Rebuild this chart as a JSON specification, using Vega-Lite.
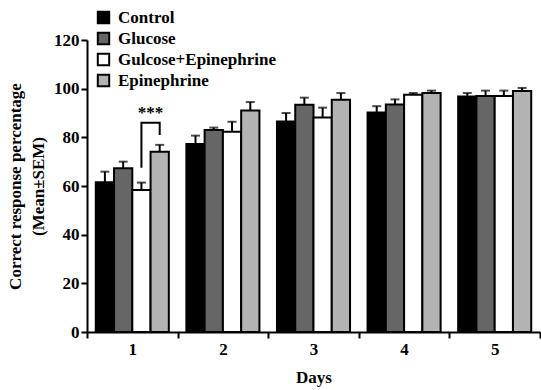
{
  "$schema": "https://vega.github.io/schema/vega-lite/v6.json",
  "autosize": "none",
  "width": 453,
  "height": 292,
  "padding": {"left": 87, "top": 40, "right": 1, "bottom": 58},
  "background": "white",
  "config": {
    "view": {"stroke": null},
    "font": "Liberation Serif",
    "axis": {"labelFont": "Liberation Serif", "titleFont": "Liberation Serif", "labelFontWeight": "bold", "titleFontWeight": "bold", "labelColor": "black", "titleColor": "black", "domainColor": "black", "tickColor": "black", "domainWidth": 2, "tickWidth": 2, "grid": false, "labelFontSize": 17, "titleFontSize": 17},
    "legend": {"labelFont": "Liberation Serif", "labelFontWeight": "bold", "labelFontSize": 17, "labelColor": "black"}
  },
  "datasets": {
    "bars": [
      {"day": "1", "group": "Control", "mean": 61.5, "upper": 65.9},
      {"day": "1", "group": "Glucose", "mean": 67.3, "upper": 70.0},
      {"day": "1", "group": "Gulcose+Epinephrine", "mean": 58.4, "upper": 61.4},
      {"day": "1", "group": "Epinephrine", "mean": 74.1, "upper": 76.9},
      {"day": "2", "group": "Control", "mean": 77.3, "upper": 80.7},
      {"day": "2", "group": "Glucose", "mean": 83.0, "upper": 84.0},
      {"day": "2", "group": "Gulcose+Epinephrine", "mean": 82.3, "upper": 86.4},
      {"day": "2", "group": "Epinephrine", "mean": 91.0, "upper": 94.5},
      {"day": "3", "group": "Control", "mean": 86.5, "upper": 90.0},
      {"day": "3", "group": "Glucose", "mean": 93.4, "upper": 96.3},
      {"day": "3", "group": "Gulcose+Epinephrine", "mean": 88.2, "upper": 92.2},
      {"day": "3", "group": "Epinephrine", "mean": 95.4, "upper": 98.2},
      {"day": "4", "group": "Control", "mean": 90.2, "upper": 92.8},
      {"day": "4", "group": "Glucose", "mean": 93.5, "upper": 95.6},
      {"day": "4", "group": "Gulcose+Epinephrine", "mean": 97.5, "upper": 98.2},
      {"day": "4", "group": "Epinephrine", "mean": 98.2, "upper": 99.2},
      {"day": "5", "group": "Control", "mean": 96.8, "upper": 98.2},
      {"day": "5", "group": "Glucose", "mean": 97.0, "upper": 99.2},
      {"day": "5", "group": "Gulcose+Epinephrine", "mean": 97.0, "upper": 99.2},
      {"day": "5", "group": "Epinephrine", "mean": 99.0, "upper": 100.3}
    ],
    "bracket": [
      {"day": "1", "group": "Gulcose+Epinephrine", "value": 67.5, "step": 1},
      {"day": "1", "group": "Gulcose+Epinephrine", "value": 86.0, "step": 2},
      {"day": "1", "group": "Epinephrine", "value": 86.0, "step": 3},
      {"day": "1", "group": "Epinephrine", "value": 81.0, "step": 4}
    ],
    "sig": [
      {"day": "1", "group": "Gulcose+Epinephrine", "value": 90, "label": "***"}
    ]
  },
  "encoding": {
    "x": {
      "field": "day", "type": "ordinal",
      "scale": {"domain": ["1", "2", "3", "4", "5"], "paddingInner": 0, "paddingOuter": 0},
      "axis": {"title": "Days", "labelAngle": 0, "tickBand": "extent", "tickSize": 6, "labelPadding": 3, "titlePadding": 12}
    },
    "xOffset": {
      "field": "group", "type": "nominal",
      "scale": {"domain": ["Control", "Glucose", "Gulcose+Epinephrine", "Epinephrine"], "paddingInner": 0, "paddingOuter": 0.48}
    }
  },
  "layer": [
    {
      "data": {"name": "bars"},
      "mark": {"type": "bar", "stroke": "black", "strokeWidth": 2},
      "encoding": {
        "y": {
          "field": "mean", "type": "quantitative",
          "scale": {"domain": [0, 120], "nice": false},
          "axis": {"title": ["Correct response percentage", "(Mean±SEM)"], "values": [0, 20, 40, 60, 80, 100, 120], "tickSize": 6, "labelPadding": 2, "titlePadding": 6, "titleLineHeight": 23}
        },
        "fill": {
          "field": "group", "type": "nominal",
          "scale": {"domain": ["Control", "Glucose", "Gulcose+Epinephrine", "Epinephrine"], "range": ["#000000", "#666666", "#ffffff", "#b3b3b3"]},
          "legend": {"title": null, "orient": "none", "legendX": 8, "legendY": -31, "symbolType": "square", "symbolSize": 130, "symbolStrokeColor": "black", "symbolStrokeWidth": 2, "rowPadding": 0, "labelOffset": 6}
        }
      }
    },
    {
      "data": {"name": "bars"},
      "mark": {"type": "rule", "stroke": "black", "strokeWidth": 2},
      "encoding": {
        "y": {"field": "mean", "type": "quantitative"},
        "y2": {"field": "upper"}
      }
    },
    {
      "data": {"name": "bars"},
      "mark": {"type": "tick", "color": "black", "thickness": 2, "size": 9, "orient": "horizontal"},
      "encoding": {
        "y": {"field": "upper", "type": "quantitative"}
      }
    },
    {
      "data": {"name": "bracket"},
      "mark": {"type": "line", "color": "black", "strokeWidth": 2},
      "encoding": {
        "y": {"field": "value", "type": "quantitative"},
        "order": {"field": "step", "type": "quantitative"}
      }
    },
    {
      "data": {"name": "sig"},
      "mark": {"type": "text", "font": "Liberation Serif", "fontWeight": "bold", "fontSize": 17, "dx": 9, "baseline": "middle", "color": "black"},
      "encoding": {
        "y": {"field": "value", "type": "quantitative"},
        "text": {"field": "label"}
      }
    }
  ]
}
